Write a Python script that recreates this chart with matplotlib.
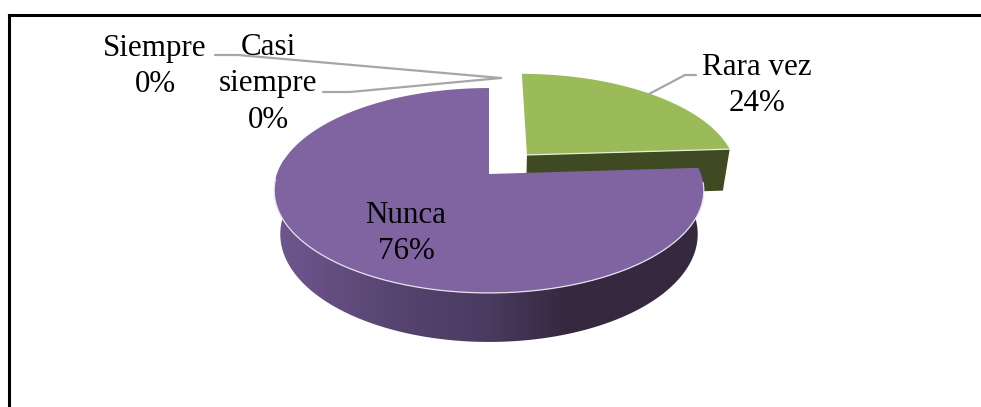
import numpy as np
import matplotlib
matplotlib.use('Agg')
import matplotlib.pyplot as plt
from matplotlib.colors import LinearSegmentedColormap
from matplotlib.patches import Polygon

categories = ['Siempre', 'Casi\nsiempre', 'Rara vez', 'Nunca']
percents = [0, 0, 24, 76]
explode = [0, 0, 0.27, 0]

plt.rcParams['font.family'] = ['Liberation Serif', 'DejaVu Serif']

fig = plt.figure(figsize=(9.81, 4.07), dpi=100)
ax = fig.add_axes([9 / 981, 0, 972 / 981, 392 / 407])

# pie gives the wedge angles, they get projected by hand for the 3d look
wedges, _ = ax.pie(percents, explode=explode, startangle=90, counterclock=False)
pieces = [(w.center, w.theta1, w.theta2) for w in wedges]
for w in wedges:
    w.remove()


def project(u, v, plane='top'):
    # circle coords -> pixel coords with a bit of perspective
    w = 1 + 0.161 * v
    if plane == 'top':
        return 489 + 212 * u / w, 174 - 99.8 * v / w
    return 489 + 206 * u / w, 216.8 - 105 * v / w


def arc(center, t1, t2, plane='top'):
    t = np.radians(np.linspace(t1, t2, 200))
    x, y = project(center[0] + np.cos(t), center[1] + np.sin(t), plane)
    return np.column_stack([x, y])


green_c, green_t1, green_t2 = pieces[2]
purple_c, purple_t1, purple_t2 = pieces[3]

# front face of the green slice
a_top = project(green_c[0], green_c[1])
a_low = project(green_c[0], green_c[1], 'low')
corner_top = arc(green_c, green_t1, green_t1)[0]
corner_low = arc(green_c, green_t1, green_t1, 'low')[0]
ax.add_patch(Polygon([a_top, corner_top, corner_low, a_low], color='#3f4922', lw=0, zorder=1))

# green top
top = np.vstack([[a_top], arc(green_c, green_t1, green_t2)])
ax.add_patch(Polygon(top, fc='#9bbb59', lw=0, zorder=2))
ax.plot([a_top[0], corner_top[0]], [a_top[1], corner_top[1]], color='#e8ecdc', lw=0.9, zorder=2)

# purple side with gradient
side = np.vstack([arc(purple_c, purple_t1, purple_t2),
                  arc(purple_c, purple_t2, purple_t1, 'low')])
side_patch = Polygon(side, fc='none', lw=0, zorder=3)
ax.add_patch(side_patch)
cmap = LinearSegmentedColormap.from_list('side', [
    (0.0, '#6f5790'), (0.28, '#57446f'), (0.5, '#4a3a60'),
    (0.68, '#36283f'), (1.0, '#35283f')])
grad = ax.imshow(np.linspace(0, 1, 256).reshape(1, -1), cmap=cmap, aspect='auto',
                 extent=(274, 704, 345, 160), zorder=3)
grad.set_clip_path(side_patch)

# purple top
top = np.vstack([[project(purple_c[0], purple_c[1])], arc(purple_c, purple_t1, purple_t2)])
ax.add_patch(Polygon(top, fc='#8064a2', lw=0, zorder=4))
rim = arc(purple_c, 183, 355)
ax.plot(rim[:, 0], rim[:, 1], color='#e6e2ec', lw=0.9, zorder=4)

# leader lines
line = dict(color='#a6a6a6', lw=1.6, zorder=5, solid_capstyle='round')
ax.plot([215, 238, 501], [55, 55, 78], **line)
ax.plot([323, 350, 501], [92, 92, 78], **line)
ax.plot([649, 685, 696], [94, 75, 75], **line)

# labels
font = dict(fontsize=22.3, ha='center', va='center', color='black', zorder=6, linespacing=1.34)
ax.text(155, 66.5, f'{categories[0]}\n{percents[0]}%', **font)
ax.text(268, 84, f'{categories[1]}\n{percents[1]}%', **font)
ax.text(757, 85.5, f'{categories[2]}\n{percents[2]}%', **font)
ax.text(406, 233.5, f'{categories[3]}\n{percents[3]}%', **font)

ax.set_aspect('auto')
ax.set_xlim(9, 981)
ax.set_ylim(407, 15)
ax.set_frame_on(True)
ax.set_xticks([])
ax.set_yticks([])
for s in ['right', 'bottom']:
    ax.spines[s].set_visible(False)
for s in ['top', 'left']:
    ax.spines[s].set_visible(True)
    ax.spines[s].set_linewidth(2.2)
    ax.spines[s].set_color('black')

fig.savefig('out.png', dpi=100)
plt.close(fig)
